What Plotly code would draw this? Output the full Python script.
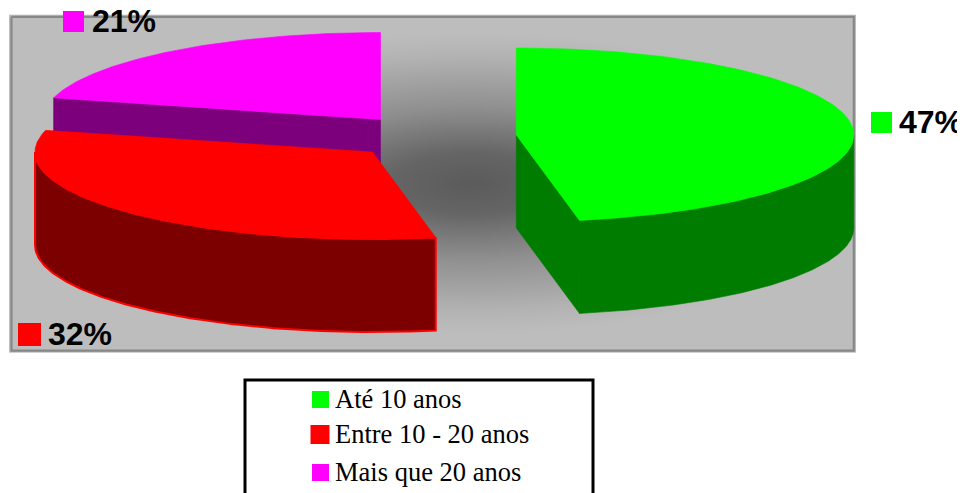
import numpy as np
import plotly.graph_objects as go

# Survey shares by length of service
categories = ["Até 10 anos", "Entre 10 - 20 anos", "Mais que 20 anos"]
shares = [47, 32, 21]

top_colors = ["#00ff00", "#ff0000", "#ff00ff"]
side_colors = ["#007c00", "#7c0000", "#7c007c"]

# Projection of the exploded 3D pie, in pixels of the plotting area
RX, RY, DEPTH = 337.5, 87.0, 93.0
SLICE_CENTRES = [(516.3, 135.0), (372.5, 152.0), (380.5, 119.5)]
PANEL = (11.5, 16.8, 853.8, 350.6)
W, H, CLIP_X = 968, 493, 957


def rim(cx, cy, a0, a1, n=160):
    """Points on the elliptical rim; angles run clockwise from the top, in degrees."""
    t = np.radians(np.linspace(a0, a1, n))
    return cx + RX * np.sin(t), cy - RY * np.cos(t)


def poly(x, y, fill, line=None, lw=0):
    return go.Scatter(
        x=list(x), y=list(y), mode="lines", fill="toself", fillcolor=fill,
        line=dict(color=line or fill, width=lw if line else 0.6),
        hoverinfo="skip", showlegend=False,
    )


fig = go.Figure()

# Panel background: dark glow fading outwards
gx = np.linspace(PANEL[0], PANEL[2], 170)
gy = np.linspace(PANEL[1], PANEL[3], 80)
xx, yy = np.meshgrid(gx, gy)
glow = np.clip(np.hypot((xx - 470) / 400, (yy - 183) / 150), 0, 1)
fig.add_trace(go.Heatmap(
    x=gx, y=gy, z=glow, zmin=0, zmax=1, zsmooth="best", showscale=False,
    colorscale=[[0, "#5b5b5b"], [0.2, "#656565"], [0.5, "#8f8f8f"],
                [0.85, "#b3b3b3"], [1, "#bdbdbd"]],
    hoverinfo="skip",
))
fig.add_trace(go.Scatter(
    x=[PANEL[0], PANEL[2], PANEL[2], PANEL[0], PANEL[0]],
    y=[PANEL[1], PANEL[1], PANEL[3], PANEL[3], PANEL[1]],
    mode="lines", line=dict(color="#878787", width=2.2), hoverinfo="skip", showlegend=False,
))

# Slice angles from the shares
edges = np.concatenate([[0], np.cumsum(shares)]) / sum(shares) * 360
a_green = edges[:2]
a_red = edges[1:3]
a_mag = edges[2:4]

# Magenta slice: cut face, then top
cx, cy = SLICE_CENTRES[2]
sx, sy = rim(cx, cy, a_mag[0], a_mag[1])
fig.add_trace(poly([sx[0], cx, cx, sx[0], sx[0]],
                   [sy[0], cy, cy + DEPTH, sy[0] + DEPTH, sy[0]], side_colors[2]))
fig.add_trace(poly(np.r_[cx, sx, cx], np.r_[cy, sy, cy], top_colors[2]))

# Red slice: outer wall with bright outline, then top
cx, cy = SLICE_CENTRES[1]
wx, wy = rim(cx, cy, a_red[0], 270)
fig.add_trace(poly(np.r_[wx, wx[::-1], wx[0]], np.r_[wy, wy[::-1] + DEPTH, wy[0]],
                   side_colors[1], line=top_colors[1], lw=2))
sx, sy = rim(cx, cy, a_red[0], a_red[1])
fig.add_trace(poly(np.r_[cx, sx, cx], np.r_[cy, sy, cy], top_colors[1]))

# Green slice: cut face, outer wall, then top
cx, cy = SLICE_CENTRES[0]
sx, sy = rim(cx, cy, a_green[0], a_green[1])
fig.add_trace(poly([cx, sx[-1], sx[-1], cx, cx],
                   [cy, sy[-1], sy[-1] + DEPTH, cy + DEPTH, cy], side_colors[0]))
wx, wy = rim(cx, cy, 90, a_green[1])
fig.add_trace(poly(np.r_[wx, wx[::-1], wx[0]], np.r_[wy, wy[::-1] + DEPTH, wy[0]], side_colors[0]))
fig.add_trace(poly(np.r_[cx, sx, cx], np.r_[cy, sy, cy], top_colors[0]))

# Percentage labels with their colour keys
label_keys = [(881.5, 122.5, 21), (29.5, 334.5, 23), (73.5, 21.5, 21)]
label_text_x = [899, 48, 92]
for share, color, (kx, ky, ks), tx in zip(shares, top_colors, label_keys, label_text_x):
    fig.add_trace(go.Scatter(
        x=[kx], y=[ky], mode="markers",
        marker=dict(symbol="square", size=ks, color=color, line=dict(width=0)),
        hoverinfo="skip", showlegend=False,
    ))
    fig.add_trace(go.Scatter(
        x=[tx], y=[ky + 2], mode="text", text=[f"{share}%"], textposition="middle right",
        textfont=dict(family="Liberation Sans", size=32, color="#000000", weight="bold"),
        hoverinfo="skip", showlegend=False, cliponaxis=True,
    ))

# Legend box, running off the bottom of the page
fig.add_trace(go.Scatter(
    x=[245, 245, 593, 593], y=[H + 6, 380, 380, H + 6], mode="lines",
    line=dict(color="#000000", width=3), hoverinfo="skip", showlegend=False,
))
legend_rows = [(320.5, 399.5, 17), (320, 434.5, 19), (320.5, 472.5, 17)]
for name, color, (kx, ky, ks) in zip(categories, top_colors, legend_rows):
    fig.add_trace(go.Scatter(
        x=[kx], y=[ky], mode="markers",
        marker=dict(symbol="square", size=ks, color=color, line=dict(width=0)),
        hoverinfo="skip", showlegend=False,
    ))
    fig.add_trace(go.Scatter(
        x=[335], y=[ky + 2], mode="text", text=[name], textposition="middle right",
        textfont=dict(family="Liberation Serif", size=26.5, color="#000000"),
        hoverinfo="skip", showlegend=False,
    ))

fig.update_layout(
    width=W, height=H, margin=dict(l=0, r=W - CLIP_X, t=0, b=0, pad=0),
    paper_bgcolor="#ffffff", plot_bgcolor="#ffffff", showlegend=False,
    xaxis=dict(range=[0, CLIP_X], visible=False, fixedrange=True),
    yaxis=dict(range=[H, 0], visible=False, fixedrange=True),
)
fig.write_html("out.html", config={"displayModeBar": False})
